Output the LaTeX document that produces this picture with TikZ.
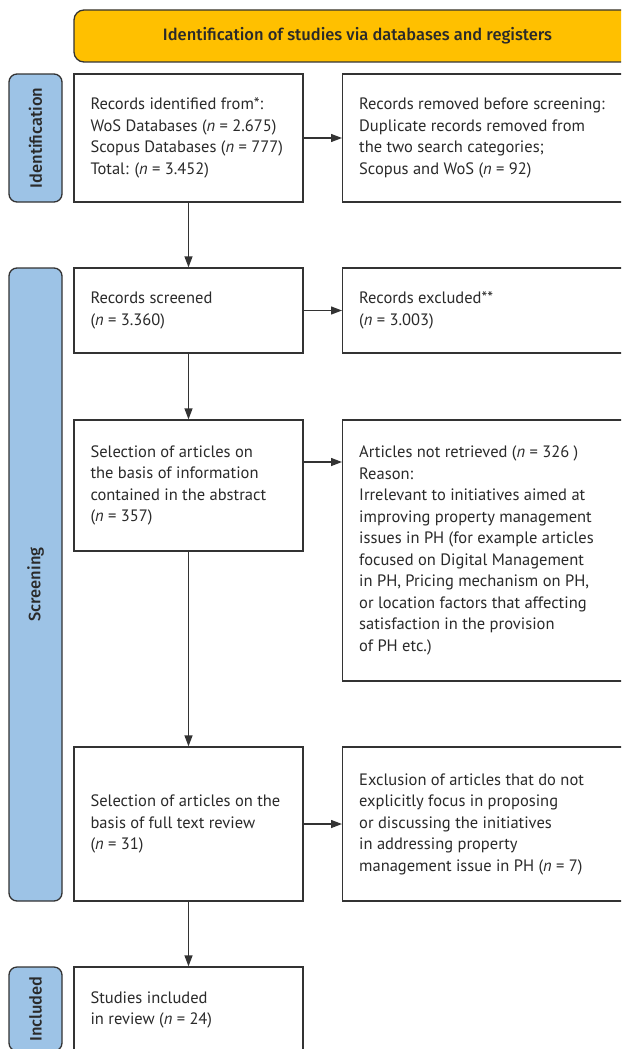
\documentclass[tikz,border=0pt]{standalone}
\usepackage{fontspec}
\setmainfont{PT Sans}
\newfontfamily\medfont{Fira Sans Medium}
\usetikzlibrary{arrows.meta}
\definecolor{ink}{HTML}{333333}
\definecolor{txtc}{HTML}{2A2A2A}
\definecolor{ylw}{HTML}{FFC000}
\definecolor{lblue}{HTML}{9DC3E6}
\tikzset{
  boxbase/.style={draw=ink, line width=1.3pt, fill=white, inner sep=0pt},
  lbox/.style={boxbase, minimum width=229pt},
  rbox/.style={boxbase, minimum width=300pt, anchor=west},
  txt/.style={anchor=west, align=left, inner sep=0pt, text=txtc,
    font=\fontsize{16.5}{21.5}\selectfont},
  lab/.style={draw=ink, line width=1.3pt, fill=lblue, text=txtc, rounded corners=8pt,
    inner sep=0pt, rotate=90, minimum height=53pt, font=\medfont\fontsize{16.5}{18}\selectfont},
  titlebox/.style={draw=ink, line width=1.3pt, fill=ylw, text=txtc, rounded corners=10pt,
    inner sep=0pt, font=\medfont\fontsize{16.5}{18}\selectfont},
  arr/.style={draw=ink, line width=1.3pt, -{Triangle[length=11pt,width=8pt]}}
}
\begin{document}
\begin{tikzpicture}[x=1pt,y=-1pt]
\useasboundingbox (0,0) rectangle (621,1049);
\clip (0,0) rectangle (621,1049);

\node[titlebox, minimum width=567pt, minimum height=52pt] (title) at (357.5,36) {Identification of studies via databases and registers};

\node[lab, minimum width=128pt] (l1) at (35.5,138) {Identification};
\node[lab, minimum width=633pt] (l2) at (35.5,584.5) {Screening};
\node[lab, minimum width=84pt] (l3) at (35.5,1009) {Included};

\node[lbox, minimum height=128pt] (b1) at (188.5,138) {};
\node[lbox, minimum height=85pt] (b2) at (188.5,310.5) {};
\node[lbox, minimum height=131pt] (b3) at (188.5,485.5) {};
\node[lbox, minimum height=154pt] (b4) at (188.5,824) {};
\node[lbox, minimum height=86pt] (b5) at (188.5,1010) {};

\node[rbox, minimum height=128pt] (r1) at (342,138) {};
\node[rbox, minimum height=85pt] (r2) at (342,310.5) {};
\node[rbox, minimum height=261pt] (r3) at (342,550.5) {};
\node[rbox, minimum height=154pt] (r4) at (342,824) {};

\node[txt] (t1) at ([xshift=17pt]b1.west) {Records identified from*:\\ WoS Databases (\textit{n} = 2.675)\\ Scopus Databases (\textit{n} = 777)\\ Total: (\textit{n} = 3.452)};
\node[txt] (t2) at ([xshift=17pt]b2.west) {Records screened\\ (\textit{n} = 3.360)};
\node[txt] (t3) at ([xshift=17pt]b3.west) {Selection of articles on\\ the basis of information\\ contained in the abstract\\ (\textit{n} = 357)};
\node[txt] (t4) at ([xshift=17pt]b4.west) {Selection of articles on the\\ basis of full text review\\ (\textit{n} = 31)};
\node[txt] (t5) at ([xshift=17pt]b5.west) {Studies included\\ in review (\textit{n} = 24)};

\node[txt] (u1) at ([xshift=17pt]r1.west) {Records removed before screening:\\ Duplicate records removed from\\ the two search categories;\\ Scopus and WoS (\textit{n} = 92)};
\node[txt] (u2) at ([xshift=17pt]r2.west) {Records excluded**\\ (\textit{n} = 3.003)};
\node[txt] (u3) at ([xshift=17pt]r3.west) {Articles not retrieved (\textit{n} = 326 )\\ Reason:\\ Irrelevant to initiatives aimed at\\ improving property management\\ issues in PH (for example articles\\ focused on Digital Management\\ in PH, Pricing mechanism on PH,\\ or location factors that affecting\\ satisfaction in the provision\\ of PH etc.)};
\node[txt] (u4) at ([xshift=17pt]r4.west) {Exclusion of articles that do not\\ explicitly focus in proposing\\ or discussing the initiatives\\ in addressing property\\ management issue in PH (\textit{n} = 7)};

\draw[arr] (b1.south) -- (b2.north);
\draw[arr] (b2.south) -- (b3.north);
\draw[arr] (b3.south) -- (b4.north);
\draw[arr] (b4.south) -- (b5.north);

\draw[arr] (b1.east) -- (r1.west);
\draw[arr] (b2.east) -- (r2.west);
\draw[arr] ([yshift=23.5pt]b3.east) -- ([yshift=23.5pt]b3.east -| r3.west);
\draw[arr] (b4.east) -- (r4.west);
\end{tikzpicture}
\end{document}
